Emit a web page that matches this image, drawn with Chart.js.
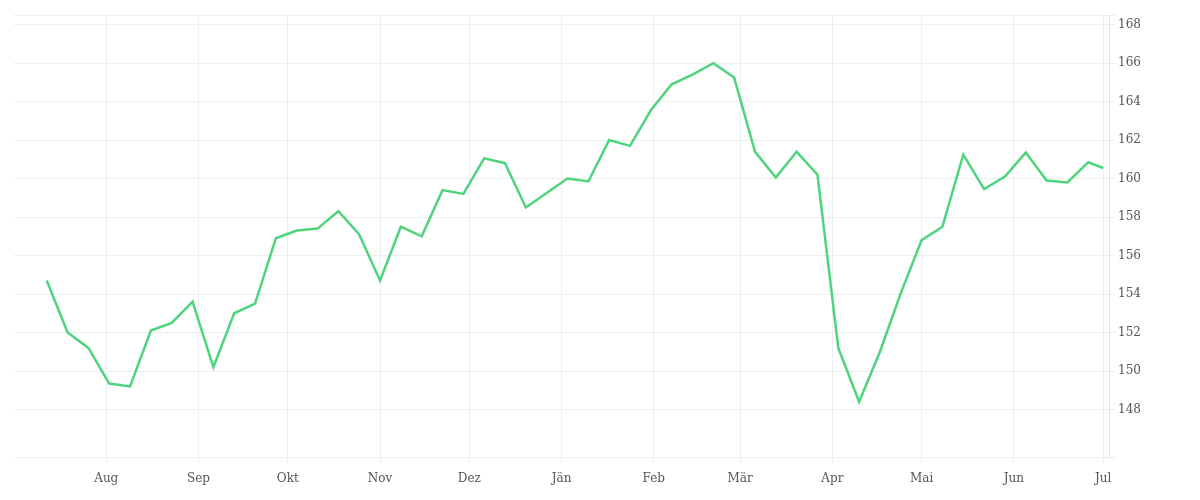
<!DOCTYPE html>
<html><head><meta charset="utf-8">
<script src="https://cdn.jsdelivr.net/npm/chart.js@4"></script>
<style>html,body{margin:0;padding:0;background:#fff}#w{width:1200px;height:500px}</style>
</head><body><div id="w"><canvas id="c"></canvas></div>
<script>
const dates = ["2023-07-12","2023-07-19","2023-07-26","2023-08-02","2023-08-09","2023-08-16","2023-08-23","2023-08-30","2023-09-06","2023-09-13","2023-09-20","2023-09-27","2023-10-04","2023-10-11","2023-10-18","2023-10-25","2023-11-01","2023-11-08","2023-11-15","2023-11-22","2023-11-29","2023-12-06","2023-12-13","2023-12-20","2023-12-27","2024-01-03","2024-01-10","2024-01-17","2024-01-24","2024-01-31","2024-02-07","2024-02-14","2024-02-21","2024-02-28","2024-03-06","2024-03-13","2024-03-20","2024-03-27","2024-04-03","2024-04-10","2024-04-17","2024-04-24","2024-05-01","2024-05-08","2024-05-15","2024-05-22","2024-05-29","2024-06-05","2024-06-12","2024-06-19","2024-06-26","2024-07-01"];
const values = [154.7,152.0,151.2,149.35,149.2,152.1,152.5,153.6,150.2,153.0,153.5,156.9,157.3,157.4,158.3,157.1,154.7,157.5,157.0,159.4,159.2,161.05,160.8,158.5,159.25,160.0,159.85,162.0,161.7,163.55,164.9,165.4,166.0,165.25,161.4,160.05,161.4,160.2,151.2,148.4,151.0,154.05,156.8,157.5,161.25,159.45,160.1,161.35,159.9,159.8,160.85,160.55];
const monthTicks = ["2023-08-01","2023-09-01","2023-10-01","2023-11-01","2023-12-01","2024-01-01","2024-02-01","2024-03-01","2024-04-01","2024-05-01","2024-06-01","2024-07-01"];
const monthLabels = ["Aug","Sep","Okt","Nov","Dez","Jän","Feb","Mär","Apr","Mai","Jun","Jul"];
const day = s => Date.parse(s+"T00:00:00Z")/86400000;
const pts = dates.map((d,i)=>({x:day(d),y:values[i]}));
const tickDays = monthTicks.map(day);
new Chart(document.getElementById('c'),{
 type:'line',
 data:{datasets:[{data:pts,borderColor:'#4fd47e',borderWidth:2.5,pointRadius:0,tension:0,fill:false}]},
 options:{responsive:true,maintainAspectRatio:false,animation:false,
  layout:{padding:{left:14,top:15,right:56,bottom:6}},
  plugins:{legend:{display:false},tooltip:{enabled:false}},
  scales:{
   x:{type:'linear',min:day("2023-07-01"),max:day("2024-07-03"),
    afterBuildTicks:a=>{a.ticks=tickDays.map(v=>({value:v}));},
    grid:{color:'#eeeeee',drawTicks:true,tickLength:6},border:{display:false},
    ticks:{autoSkip:false,maxRotation:0,padding:8,color:'#555',font:{family:'DejaVu Serif',size:12},
     callback:v=>{const i=tickDays.indexOf(v);return i>=0?monthLabels[i]:'';}}},
   y:{position:'right',min:145.5,max:168.5,
    afterBuildTicks:a=>{const t=[{value:145.5}];for(let v=148;v<=168;v+=2)t.push({value:v});t.push({value:168.5});a.ticks=t;},
    grid:{color:'#eeeeee',tickLength:6},border:{display:true,color:'#e0e0e0'},
    ticks:{color:'#555',font:{family:'DejaVu Serif',size:12},callback:v=>Number.isInteger(v)?v:''}}
  }}
});
</script></body></html>
